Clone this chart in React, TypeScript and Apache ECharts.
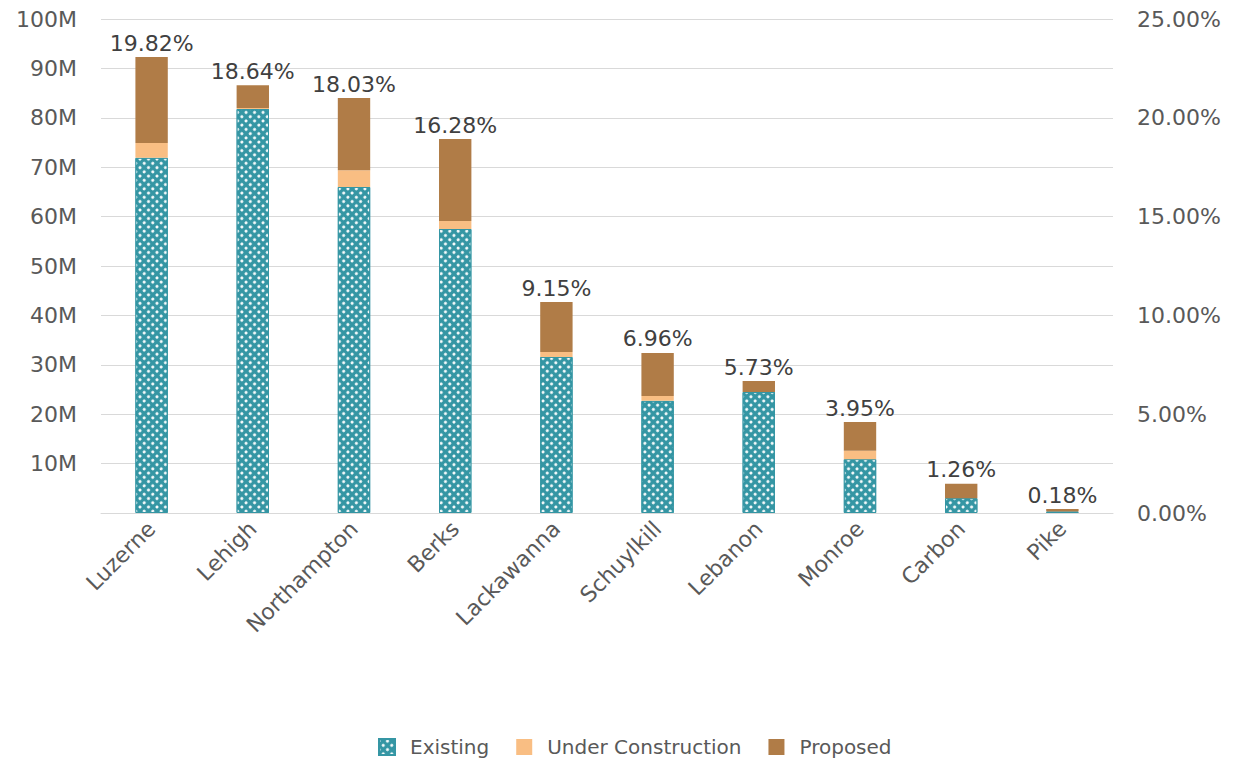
import React, { useEffect, useRef } from "react";
import * as echarts from "echarts";

const categories = ["Luzerne", "Lehigh", "Northampton", "Berks", "Lackawanna", "Schuylkill", "Lebanon", "Monroe", "Carbon", "Pike"];
const existing = [71.9, 81.8, 66.0, 57.5, 31.6, 22.7, 24.5, 10.9, 3.0, 0.3];
const underConstruction = [3.0, 0.2, 3.4, 1.6, 1.0, 1.0, 0.0, 1.7, 0.0, 0.0];
const proposed = [17.4, 4.6, 14.6, 16.6, 10.1, 8.7, 2.2, 5.8, 2.9, 0.5];
const shares = ["19.82%", "18.64%", "18.03%", "16.28%", "9.15%", "6.96%", "5.73%", "3.95%", "1.26%", "0.18%"];
const leftTicks = { min: 0, max: 100e6, interval: 10e6 };
const rightTicks = { min: 0, max: 0.25, interval: 0.05 };

const FONT = "DejaVu Sans";
const TEXT = "#595959";

export default function App() {
  const ref = useRef<HTMLDivElement>(null);
  useEffect(() => {
    const chart = echarts.init(ref.current!, null, { renderer: "svg" });
    const toM = (a: number[]) => a.map((v) => v * 1e6);
    chart.setOption({
      animation: false,
      backgroundColor: "#fff",
      textStyle: { fontFamily: FONT },
      grid: { left: 101, right: 120, top: 19, bottom: 249, containLabel: false },
      legend: {
        bottom: 0,
        left: 373,
        icon: "rect",
        itemWidth: 16,
        itemHeight: 16,
        itemGap: 27,
        textStyle: { fontSize: 20, color: TEXT, fontFamily: FONT, padding: [0, 0, 0, 10] },
        data: ["Existing", "Under Construction", "Proposed"],
      },
      xAxis: {
        type: "category",
        data: categories,
        axisTick: { show: false },
        axisLine: { lineStyle: { color: "#d9d9d9" } },
        axisLabel: { rotate: 45, fontSize: 22, color: TEXT, margin: 12, interval: 0 },
      },
      yAxis: [
        {
          type: "value",
          ...leftTicks,
          axisLine: { show: false },
          axisTick: { show: false },
          splitLine: { lineStyle: { color: "#d9d9d9" } },
          axisLabel: {
            fontSize: 22,
            color: TEXT,
            margin: 24,
            formatter: (v: number) => (v === 0 ? "" : v / 1e6 + "M"),
          },
        },
        {
          type: "value",
          ...rightTicks,
          position: "right",
          axisLine: { show: false },
          axisTick: { show: false },
          splitLine: { show: false },
          axisLabel: {
            fontSize: 22,
            color: TEXT,
            margin: 24,
            formatter: (v: number) => (v * 100).toFixed(2) + "%",
          },
        },
      ],
      series: [
        {
          name: "Existing",
          type: "bar",
          stack: "t",
          barWidth: "32%",
          data: toM(existing),
          itemStyle: {
            color: "#3596a4",
            borderColor: "#3596a4",
            borderWidth: 1,
            decal: {
              symbol: "circle",
              color: "#ffffff",
              symbolSize: 1,
              dashArrayX: 3,
              dashArrayY: 3,
              rotation: Math.PI / 4,
            },
          },
        },
        {
          name: "Under Construction",
          type: "bar",
          stack: "t",
          data: toM(underConstruction),
          itemStyle: { color: "#f9be83" },
        },
        {
          name: "Proposed",
          type: "bar",
          stack: "t",
          data: toM(proposed),
          itemStyle: { color: "#b07c47" },
          label: {
            show: true,
            position: "top",
            distance: 3,
            fontSize: 22,
            color: "#404040",
            fontFamily: FONT,
            formatter: (p: any) => shares[p.dataIndex],
          },
        },
        {
          name: "share",
          type: "line",
          yAxisIndex: 1,
          data: [],
          showSymbol: false,
        },
      ],
    });
    return () => chart.dispose();
  }, []);
  return <div ref={ref} style={{ width: 1233, height: 762, position: "absolute", left: 0, top: 0 }} />;
}
